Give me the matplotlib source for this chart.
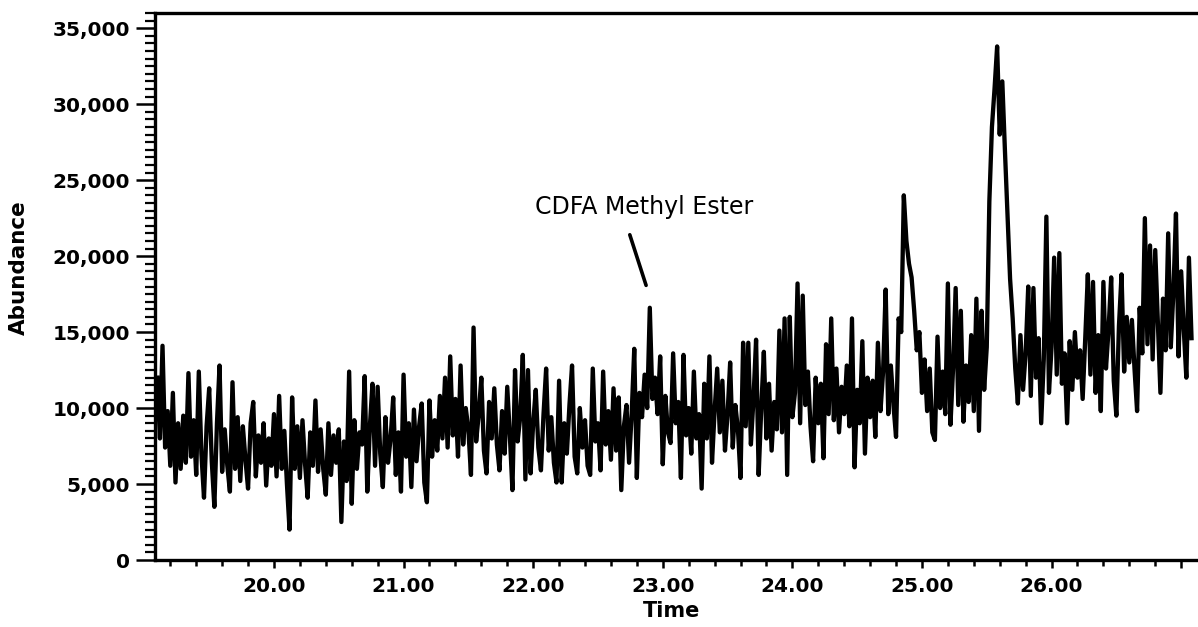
import numpy as np
from matplotlib import pyplot as plt
from matplotlib.ticker import MultipleLocator, FuncFormatter

# scan start / spacing (minutes) and abundance, in thousands
t_start = 19.10
t_step = 0.02
abundance_k = [
    12.0, 8.0, 14.1, 7.4, 9.8, 6.2, 11.0, 5.1, 9.0, 6.0,       # 19.10
    9.5, 6.4, 12.3, 6.8, 9.2, 5.6, 12.4, 7.0, 4.1, 8.8,        # 19.30
    11.3, 6.5, 3.5, 9.0, 12.8, 5.8, 8.6, 6.2, 4.5, 11.7,       # 19.50
    6.0, 9.4, 5.2, 8.8, 6.6, 4.7, 9.0, 10.4, 5.5, 8.2,         # 19.70
    6.4, 9.0, 4.9, 8.0, 6.2, 9.6, 5.5, 10.8, 6.0, 8.5,         # 19.90
    5.0, 2.0, 10.7, 6.0, 8.8, 5.4, 9.2, 6.3, 4.1, 8.4,         # 20.10
    6.2, 10.5, 5.8, 8.6, 6.0, 4.3, 9.0, 5.6, 8.2, 6.4,         # 20.30
    8.6, 2.5, 7.8, 5.2, 12.4, 3.7, 9.2, 6.0, 8.4, 7.6,         # 20.50
    12.1, 4.5, 8.8, 11.6, 6.2, 11.4, 7.0, 4.8, 9.4, 6.4,       # 20.70
    8.0, 10.7, 5.6, 8.4, 4.5, 12.2, 6.8, 9.0, 4.8, 9.9,        # 20.90
    6.5, 8.8, 10.3, 5.1, 3.8, 10.5, 6.8, 9.2, 7.2, 10.8,       # 21.10
    8.0, 12.0, 7.4, 13.4, 8.2, 10.6, 6.8, 12.8, 7.6, 10.0,     # 21.30
    8.6, 5.6, 15.3, 7.8, 9.6, 12.0, 7.2, 5.7, 10.4, 8.0,       # 21.50
    11.3, 7.6, 5.9, 9.8, 7.0, 11.4, 8.2, 4.6, 12.5, 7.8,       # 21.70
    9.4, 13.5, 5.3, 12.5, 5.7, 9.0, 11.2, 7.4, 5.9, 9.6,       # 21.90
    12.6, 7.2, 9.4, 6.4, 5.1, 11.8, 5.1, 9.0, 7.0, 10.2,       # 22.10
    12.8, 6.8, 5.7, 10.0, 7.4, 9.2, 6.2, 5.6, 12.6, 7.8,       # 22.30
    9.0, 5.9, 12.4, 7.6, 9.8, 6.6, 11.3, 7.2, 10.7, 4.6,       # 22.50
    8.8, 10.2, 6.4, 9.6, 13.9, 5.4, 11.0, 9.4, 12.2, 10.0,     # 22.70
    16.6, 10.6, 12.0, 9.6, 13.4, 6.3, 10.8, 8.4, 7.7, 13.6,    # 22.90
    9.0, 10.4, 5.4, 13.5, 8.2, 10.0, 7.0, 12.4, 8.0, 9.6,      # 23.10
    4.7, 11.6, 8.0, 13.4, 6.4, 9.8, 12.6, 8.4, 11.8, 7.2,      # 23.30
    9.6, 13.0, 7.4, 10.2, 8.6, 5.4, 14.3, 8.8, 14.3, 7.6,      # 23.50
    10.6, 14.5, 5.6, 10.0, 13.7, 8.0, 11.6, 7.2, 10.4, 8.6,    # 23.70
    15.1, 8.4, 15.9, 5.6, 16.0, 9.4, 11.0, 18.2, 9.0, 17.4,    # 23.90
    10.2, 12.4, 8.8, 6.5, 12.0, 9.0, 11.6, 6.7, 14.2, 9.6,     # 24.10
    15.9, 9.2, 12.6, 8.4, 11.4, 9.6, 12.8, 8.8, 15.9, 6.1,     # 24.30
    11.2, 9.0, 14.4, 7.0, 12.0, 9.4, 11.8, 8.1, 14.3, 9.8,     # 24.50
    12.4, 17.8, 9.6, 12.8, 10.2, 8.1, 15.9, 15.0, 24.0, 21.0,  # 24.70
    19.5, 18.6, 16.4, 13.8, 15.0, 11.0, 13.2, 9.8, 12.6, 8.4,  # 24.90
    7.9, 14.7, 10.0, 12.4, 9.6, 18.2, 8.9, 12.6, 17.9, 10.2,   # 25.10
    16.4, 9.1, 12.8, 10.4, 14.8, 9.8, 17.2, 8.5, 16.4, 11.2,   # 25.30
    14.0, 23.6, 28.5, 31.0, 33.8, 28.0, 31.5, 27.0, 22.8, 18.5,  # 25.50
    15.9, 12.6, 10.3, 14.8, 11.2, 13.6, 18.0, 10.8, 17.9, 12.0,  # 25.70
    14.6, 9.0, 13.2, 22.6, 11.0, 14.0, 19.9, 12.2, 20.2, 11.6,   # 25.90
    13.6, 9.0, 14.4, 11.2, 15.0, 12.0, 13.8, 10.6, 14.6, 18.8,   # 26.10
    12.2, 18.3, 11.0, 14.8, 9.8, 18.3, 12.6, 15.2, 18.6, 11.8,   # 26.30
    9.5, 15.4, 18.8, 12.4, 16.0, 13.0, 15.8, 12.6, 9.8, 16.6,    # 26.50
    13.6, 22.5, 14.2, 20.7, 13.2, 20.4, 15.6, 11.0, 17.2, 13.8,  # 26.70
    21.5, 14.0, 17.6, 22.8, 13.4, 19.0, 15.2, 12.0, 19.9, 14.6,  # 26.90
]

peak_label = "CDFA Methyl Ester"
peak_time = 22.878
peak_top = 17900

times = t_start + t_step * np.arange(len(abundance_k))
abundance = np.array(abundance_k) * 1000

fig = plt.figure(figsize=(11.98, 6.27), dpi=100)
ax = fig.add_axes([155 / 1198, 67 / 627, 1043 / 1198, 547 / 627])

ax.plot(times, abundance, color='black', linewidth=3.1)

ax.set_xlim(19.082, 27.13)
ax.set_ylim(0, 36000)

# last major tick (27.00) carries no label in the original
ax.xaxis.set_major_locator(MultipleLocator(1.0))
ax.xaxis.set_minor_locator(MultipleLocator(0.2))
ax.xaxis.set_major_formatter(FuncFormatter(lambda v, p: f"{v:.2f}" if v < 26.5 else ''))
ax.yaxis.set_major_locator(MultipleLocator(5000))
ax.yaxis.set_minor_locator(MultipleLocator(500))
ax.yaxis.set_major_formatter(FuncFormatter(lambda v, p: f"{v:,.0f}"))

ax.tick_params(axis='x', which='major', length=6, width=1.8, pad=6, direction='out')
ax.tick_params(axis='x', which='minor', length=4, width=1.8, direction='out')
ax.tick_params(axis='y', which='major', length=14, width=1.8, pad=4, direction='out')
ax.tick_params(axis='y', which='minor', length=7, width=1.6, direction='out')

for lbl in ax.get_xticklabels() + ax.get_yticklabels():
    lbl.set_fontsize(14.5)
    lbl.set_fontweight('bold')

for side in ['left', 'bottom', 'top']:
    ax.spines[side].set_linewidth(2.4)
ax.spines['right'].set_visible(False)

ax.set_xlabel('Time', fontsize=15, fontweight='bold')
ax.xaxis.set_label_coords(0.495, -0.075)
ax.set_ylabel('Abundance', fontsize=15.5, fontweight='bold')
ax.yaxis.set_label_coords(-0.121, 0.534)

ax.annotate('', xy=(peak_time, peak_top), xytext=(22.739, 21580),
            arrowprops=dict(arrowstyle='-', color='black', linewidth=2.6))
ax.text(22.859, 23224, peak_label, fontsize=17, ha='center', va='center')

fig.savefig('out.png', dpi=100)
